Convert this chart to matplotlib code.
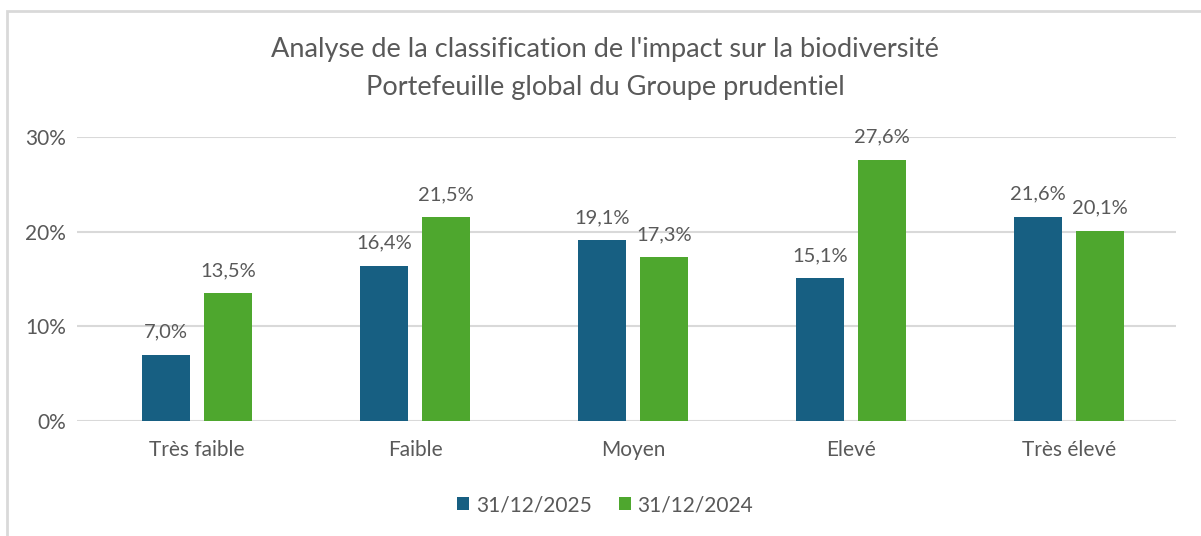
import matplotlib.pyplot as plt
import numpy as np
from matplotlib.patches import Rectangle

categories = ["Très faible", "Faible", "Moyen", "Elevé", "Très élevé"]
series_names = ["31/12/2025", "31/12/2024"]
vals_2025 = [7.0, 16.4, 19.1, 15.1, 21.6]
vals_2024 = [13.5, 21.5, 17.3, 27.6, 20.1]
yticks = [0, 10, 20, 30]

blue = "#175f82"
green = "#4ea72e"
grey_txt = "#595959"
grid_col = "#d9d9d9"

plt.rcParams['font.family'] = ['Lato', 'DejaVu Sans']

fig = plt.figure(figsize=(12.01, 5.36), dpi=100)
ax = fig.add_axes([77 / 1201, 1 - 421 / 536, (1176 - 77) / 1201, (421 - 137) / 536])

x = np.arange(len(categories))
w = 0.22
off = 0.142
b1 = ax.bar(x - off, vals_2025, w, color=blue, label=series_names[0], zorder=3)
b2 = ax.bar(x + off, vals_2024, w, color=green, label=series_names[1], zorder=3)

for bars, vals in ((b1, vals_2025), (b2, vals_2024)):
    for rect, v in zip(bars, vals):
        ax.annotate(f"{v:.1f}%".replace(".", ","),
                    (rect.get_x() + rect.get_width() / 2, v),
                    xytext=(0, 10), textcoords="offset points",
                    ha="center", va="bottom", fontsize=14.5, color=grey_txt,
                    annotation_clip=False)

ax.set_xlim(-0.55, 4.49)
ax.set_ylim(0, 30)
ax.set_yticks(yticks)
ax.set_yticklabels([f"{t}%" for t in yticks])
ax.set_xticks(x)
ax.set_xticklabels(categories)
ax.tick_params(axis="both", length=0, labelsize=15, labelcolor=grey_txt)
ax.tick_params(axis="y", pad=8)
ax.tick_params(axis="x", pad=14)
ax.yaxis.grid(True, color=grid_col, linewidth=1.5, zorder=0)
for s in ax.spines.values():
    s.set_visible(False)

fig.text(605 / 1201, 1 - 50 / 536, "Analyse de la classification de l'impact sur la biodiversité",
         ha="center", va="center", fontsize=19.5, color=grey_txt)
fig.text(605 / 1201, 1 - 87 / 536, "Portefeuille global du Groupe prudentiel",
         ha="center", va="center", fontsize=19.5, color=grey_txt)

ax.legend(loc="center", bbox_to_anchor=(605 / 1201, 1 - 505 / 536),
          bbox_transform=fig.transFigure, ncol=2, frameon=False,
          fontsize=15, labelcolor=grey_txt, handlelength=0.6, handleheight=0.6,
          handletextpad=0.3, columnspacing=1.3)

# chart frame (only top and left visible in the crop)
fig.add_artist(Rectangle((6.5 / 1201, -0.1), 1.2, 1 - 10.5 / 536 + 0.1,
                         transform=fig.transFigure, fill=False,
                         edgecolor=grid_col, linewidth=2))

fig.savefig("out.png", dpi=100)
